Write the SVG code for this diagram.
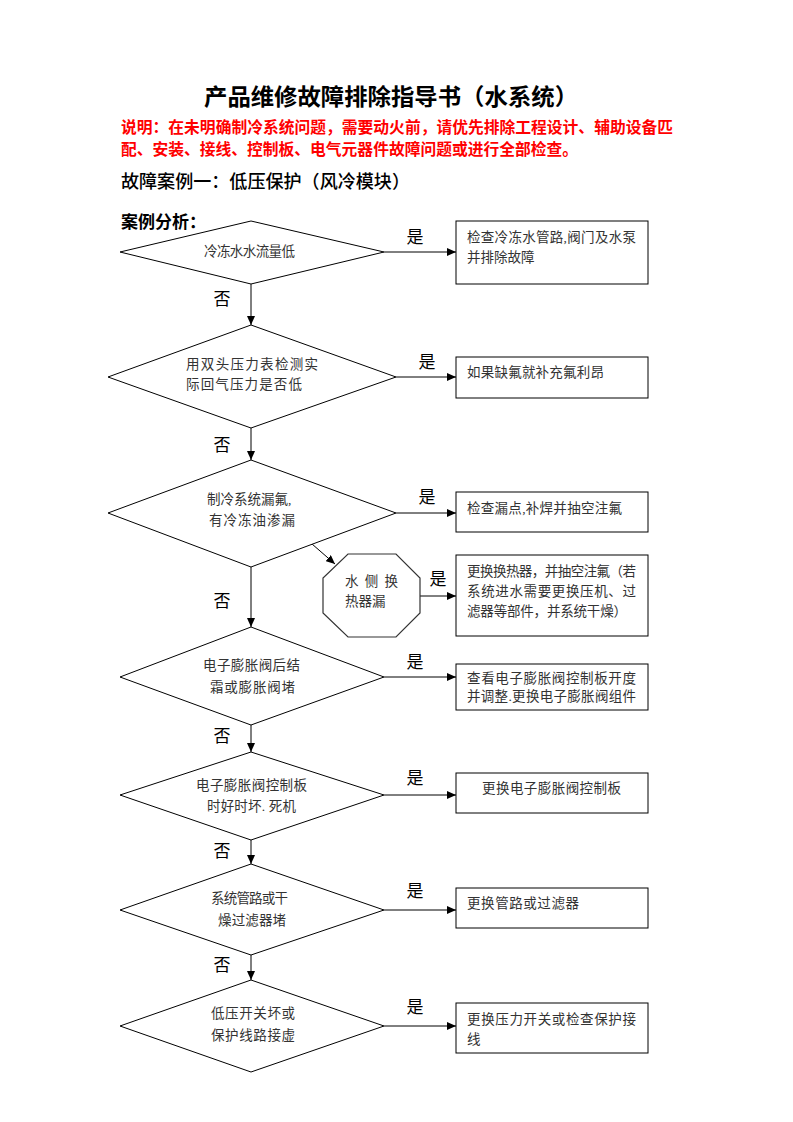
<svg xmlns="http://www.w3.org/2000/svg" width="793" height="1122" viewBox="0 0 793 1122">
<defs>
<marker id="ah" markerUnits="userSpaceOnUse" markerWidth="10" markerHeight="8" refX="9" refY="4" orient="auto">
<path d="M0,0 L9,4 L0,8 Z" fill="#000"/>
</marker>
<style>
.shape{fill:#fff;stroke:#000;stroke-width:1}
.oct{fill:#fff;stroke:#333;stroke-width:1.2}
.conn{fill:none;stroke:#000;stroke-width:1;marker-end:url(#ah)}
.t{font-family:"Liberation Serif","Noto Sans CJK SC",serif;font-size:13.5px;fill:#333}
.lbl{font-family:"Liberation Serif","Noto Sans CJK SC",serif;font-size:17px;fill:#000;text-anchor:middle}
.title{font-family:"Noto Sans CJK SC",sans-serif;font-size:23px;font-weight:bold;fill:#000}
.note{font-family:"Noto Sans CJK SC",sans-serif;font-size:15.8px;font-weight:bold;fill:#f00}
.h2{font-family:"Noto Sans CJK SC",sans-serif;font-size:18px;font-weight:500;fill:#000}
.h3{font-family:"Noto Sans CJK SC",sans-serif;font-size:17px;font-weight:bold;fill:#000}
</style>
</defs>
<rect width="793" height="1122" fill="#fff"/>

<g id="header">
<text class="title" x="204" y="105" textLength="374" lengthAdjust="spacingAndGlyphs">产品维修故障排除指导书（水系统）</text>
<text class="note" x="121" y="133" textLength="552" lengthAdjust="spacingAndGlyphs">说明：在未明确制冷系统问题，需要动火前，请优先排除工程设计、辅助设备匹</text>
<text class="note" x="121" y="155" textLength="457" lengthAdjust="spacingAndGlyphs">配、安装、接线、控制板、电气元器件故障问题或进行全部检查。</text>
<text class="h2" x="121" y="188" textLength="289" lengthAdjust="spacingAndGlyphs">故障案例一：低压保护（风冷模块）</text>
<text class="h3" x="121" y="228">案例分析：</text>
</g>

<g id="connectors">
<line class="conn" x1="384" y1="252" x2="456" y2="252"/>
<line class="conn" x1="251" y1="284" x2="251" y2="325"/>
<line class="conn" x1="396" y1="377" x2="456" y2="377"/>
<line class="conn" x1="251" y1="428" x2="251" y2="460"/>
<line class="conn" x1="396" y1="513" x2="456" y2="513"/>
<line class="conn" x1="312" y1="544" x2="335" y2="564"/>
<line class="conn" x1="420" y1="596" x2="456" y2="596"/>
<line class="conn" x1="251" y1="567" x2="251" y2="627"/>
<line class="conn" x1="384" y1="677" x2="456" y2="677"/>
<line class="conn" x1="251" y1="725" x2="251" y2="752"/>
<line class="conn" x1="384" y1="795" x2="456" y2="795"/>
<line class="conn" x1="251" y1="840" x2="251" y2="864"/>
<line class="conn" x1="384" y1="910" x2="456" y2="910"/>
<line class="conn" x1="251" y1="955" x2="251" y2="980"/>
<line class="conn" x1="384" y1="1026" x2="456" y2="1026"/>
<text class="lbl" x="415" y="243">是</text>
<text class="lbl" x="427" y="368">是</text>
<text class="lbl" x="427" y="503">是</text>
<text class="lbl" x="438" y="585">是</text>
<text class="lbl" x="415" y="668">是</text>
<text class="lbl" x="415" y="784">是</text>
<text class="lbl" x="415" y="897">是</text>
<text class="lbl" x="415" y="1013">是</text>
<text class="lbl" x="222" y="305">否</text>
<text class="lbl" x="222" y="451">否</text>
<text class="lbl" x="222" y="607">否</text>
<text class="lbl" x="222" y="742">否</text>
<text class="lbl" x="222" y="857">否</text>
<text class="lbl" x="222" y="971">否</text>
</g>

<g id="d1">
<polygon class="shape" points="251,221 384,252 251,284 120,252"/>
<text class="t" x="204" y="256" textLength="91">冷冻水水流量低</text>
</g>
<g id="b1">
<rect class="shape" x="456" y="221" width="192" height="63"/>
<text class="t" x="467" y="242" textLength="169">检查冷冻水管路,阀门及水泵</text>
<text class="t" x="467" y="262">并排除故障</text>
</g>

<g id="d2">
<polygon class="shape" points="251,325 396,377 251,428 108,377"/>
<text class="t" x="186" y="369" textLength="132">用双头压力表检测实</text>
<text class="t" x="186" y="389" textLength="116">际回气压力是否低</text>
</g>
<g id="b2">
<rect class="shape" x="456" y="357" width="192" height="41"/>
<text class="t" x="467" y="377" textLength="137">如果缺氟就补充氟利昂</text>
</g>

<g id="d3">
<polygon class="shape" points="251,460 396,513 251,567 108,513"/>
<text class="t" x="207" y="504">制冷系统漏氟,</text>
<text class="t" x="209" y="525" textLength="86">有冷冻油渗漏</text>
</g>
<g id="b3">
<rect class="shape" x="456" y="492" width="192" height="40"/>
<text class="t" x="467" y="513" textLength="155">检查漏点,补焊并抽空注氟</text>
</g>

<g id="oct">
<polygon class="oct" points="348,554 396,554 420,578 420,613 396,637 348,637 323,613 323,578"/>
<text class="t" x="345" y="586" textLength="53">水 侧 换</text>
<text class="t" x="345" y="606">热器漏</text>
</g>
<g id="b4">
<rect class="shape" x="456" y="555" width="192" height="81"/>
<text class="t" x="467" y="576" textLength="169">更换换热器，并抽空注氟（若</text>
<text class="t" x="467" y="596" textLength="169">系统进水需要更换压机、过</text>
<text class="t" x="467" y="616" textLength="160">滤器等部件，并系统干燥）</text>
</g>

<g id="d4">
<polygon class="shape" points="251,627 384,677 251,725 120,677"/>
<text class="t" x="203" y="670" textLength="97">电子膨胀阀后结</text>
<text class="t" x="210" y="692" textLength="85">霜或膨胀阀堵</text>
</g>
<g id="b5">
<rect class="shape" x="456" y="664" width="192" height="46"/>
<text class="t" x="467" y="683" textLength="169">查看电子膨胀阀控制板开度</text>
<text class="t" x="467" y="701" textLength="169">并调整.更换电子膨胀阀组件</text>
</g>

<g id="d5">
<polygon class="shape" points="251,752 384,795 251,840 120,795"/>
<text class="t" x="196" y="790" textLength="111">电子膨胀阀控制板</text>
<text class="t" x="207" y="811" textLength="89">时好时坏. 死机</text>
</g>
<g id="b6">
<rect class="shape" x="456" y="773" width="192" height="40"/>
<text class="t" x="482" y="793" textLength="139">更换电子膨胀阀控制板</text>
</g>

<g id="d6">
<polygon class="shape" points="251,864 384,910 251,955 120,910"/>
<text class="t" x="211" y="903" textLength="77">系统管路或干</text>
<text class="t" x="218" y="925" textLength="68">燥过滤器堵</text>
</g>
<g id="b7">
<rect class="shape" x="456" y="888" width="192" height="40"/>
<text class="t" x="467" y="908" textLength="112">更换管路或过滤器</text>
</g>

<g id="d7">
<polygon class="shape" points="251,980 384,1026 251,1072 120,1026"/>
<text class="t" x="211" y="1018" textLength="84">低压开关坏或</text>
<text class="t" x="211" y="1040" textLength="84">保护线路接虚</text>
</g>
<g id="b8">
<rect class="shape" x="456" y="1003" width="192" height="50"/>
<text class="t" x="467" y="1024" textLength="169">更换压力开关或检查保护接</text>
<text class="t" x="467" y="1044">线</text>
</g>
</svg>
